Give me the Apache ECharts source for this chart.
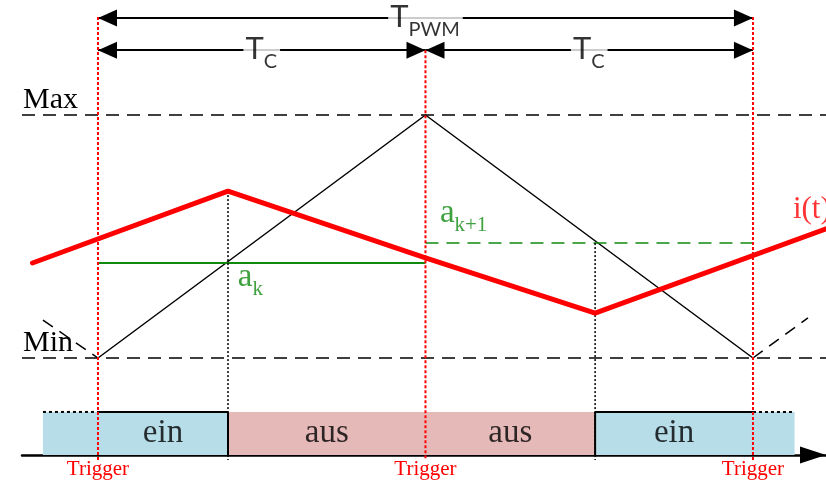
<!DOCTYPE html>
<html>
<head>
<meta charset="utf-8">
<script src="https://cdn.jsdelivr.net/npm/echarts@6/dist/echarts.min.js"></script>
<style>
html, body { margin: 0; padding: 0; background: #fff; }
#main { width: 826px; height: 487px; }
</style>
</head>
<body>
<div id="main"></div>
<script>
var myChart = echarts.init(document.getElementById('main')); //PWM时序图

// x: Zeit in Einheiten von Tc (Trigger bei 0, 1, 2), y: Träger Min = 0 .. Max = 1
var triggerTimes = [0, 1, 2];
var triggerTop = [1.403, 1.267, 1.403];
var carrierT = [0, 1, 2];
var carrierV = [0, 1, 0];
var carrierLeftT = [-0.168, 0];
var carrierLeftV = [0.156, 0];
var carrierRightT = [2, 2.168];
var carrierRightV = [0, 0.165];
var currentT = [-0.2, 0.397, 1, 1.518, 2.23];
var currentV = [0.391, 0.687, 0.412, 0.185, 0.535];
var switchTimes = [0.397, 1.518];
var dutyK = 0.391;   // a_k
var dutyK1 = 0.473;  // a_k+1
var segStart = [-0.168, 0, 0.397, 1, 1.518, 2];
var segEnd = [0, 0.397, 1, 1.518, 2, 2.127];
var segState = ['ein', 'ein', 'aus', 'aus', 'ein', 'ein'];
var levelNames = ['Min', 'Max'];
var periodFrom = [0, 0, 1];
var periodTo = [2, 1, 2];
var periodLevel = [1.399, 1.267, 1.267];
var periodSub = ['PWM', 'C', 'C'];

var barTop = -0.222;
var yMin = -0.3992, yMax = 1.4733;
var lineBottom = -0.42;
var serif = 'Liberation Serif';
var sans = 'Lato';
var green = '#0f8a0f';

function zip(a, b) {
    return a.map(function (v, i) { return [v, b[i]]; });
}

function plain(data, color, width, type, z) {
    return {
        type: 'line', data: data, symbol: 'none', silent: true, clip: false, z: z || 3,
        lineStyle: { color: color, width: width, type: type || 'solid' }
    };
}

var series = [];

// ein/aus Balken
series.push({
    type: 'custom',
    z: 1,
    silent: true,
    data: segStart.map(function (s, i) { return [s, segEnd[i]]; }),
    encode: { x: [0, 1] },
    renderItem: function (params, api) {
        var s = api.value(0), e = api.value(1);
        var state = segState[params.dataIndex];
        var p0 = api.coord([s, barTop]);
        var p1 = api.coord([e, yMin]);
        var children = [{
            type: 'rect',
            shape: { x: p0[0], y: p0[1], width: p1[0] - p0[0], height: p1[1] - p0[1] },
            style: { fill: state === 'ein' ? '#b7dde8' : '#e5b9b8' }
        }];
        if (state === 'ein') {
            var inside = s >= 0 && e <= 2;
            children.push({
                type: 'line',
                shape: { x1: p0[0], y1: p0[1], x2: p1[0], y2: p0[1] },
                style: { stroke: '#000', lineWidth: 2, lineDash: inside ? null : [3, 3] }
            });
        }
        return { type: 'group', children: children };
    }
});

// Max / Min
series.push({
    type: 'line', data: [], silent: true, z: 2,
    markLine: {
        silent: true, symbol: 'none', label: { show: false },
        lineStyle: { color: '#000', width: 1.5, type: [13, 8] },
        data: [{ yAxis: 0 }, { yAxis: 1 }]
    }
});

// Träger
series.push(plain(zip(carrierT, carrierV), '#000', 1.5));
series.push(plain(zip(carrierLeftT, carrierLeftV), '#000', 1.5, [12, 8]));
series.push(plain(zip(carrierRightT, carrierRightV), '#000', 1.5, [12, 8]));

// a_k, a_k+1
series.push(plain([[0, dutyK], [1, dutyK]], green, 2));
series.push(plain([[1, dutyK1], [2, dutyK1]], green, 1.5, [13, 8]));

// Schaltzeitpunkte
series.push(plain([[switchTimes[0], currentV[1]], [switchTimes[0], lineBottom]], '#000', 1.5, [2, 2]));
series.push(plain([[switchTimes[1], dutyK1], [switchTimes[1], lineBottom]], '#000', 1.5, [2, 2]));
switchTimes.forEach(function (t) {
    series.push(plain([[t, barTop], [t, yMin]], '#000', 2));
});

// Trigger
triggerTimes.forEach(function (t, i) {
    series.push(plain([[t, triggerTop[i]], [t, lineBottom]], '#f00', 2, [3, 2], 5));
});

// Strom i(t)
var cur = plain(zip(currentT, currentV), '#f00', 5, 'solid', 4);
cur.clip = true;
cur.lineStyle.cap = 'round';
series.push(cur);

// Pfeile T_PWM, T_C
series.push({
    type: 'line', data: [], silent: true, z: 6,
    markLine: {
        silent: true,
        symbol: ['triangle', 'triangle'],
        symbolSize: [17, 19],
        symbolOffset: [[0, 9.5], [0, 9.5]],
        lineStyle: { color: '#000', width: 2, type: 'solid' },
        label: { show: false },
        data: periodFrom.map(function (f, i) {
            return [{ coord: [f, periodLevel[i]] }, { coord: [periodTo[i], periodLevel[i]] }];
        })
    }
});

series.push({
    type: 'scatter', symbolSize: 0, silent: true, z: 8,
    data: periodFrom.map(function (f, i) {
        return [(f + periodTo[i]) / 2, periodLevel[i], periodSub[i]];
    }),
    label: {
        show: true, position: 'inside', color: '#000',
        backgroundColor: '#fff', padding: [10, 3, 0, 2],
        formatter: function (p) { return '{t|T}{s|' + p.value[2] + '}'; },
        rich: {
            t: { fontFamily: sans, fontSize: 31, lineHeight: 28, verticalAlign: 'bottom', padding: [0, 0, 5, 0] },
            s: { fontFamily: sans, fontSize: 20, lineHeight: 20, verticalAlign: 'bottom', padding: [0, 0, -2, 0] }
        }
    }
});

// Beschriftungen
series.push({
    type: 'scatter', symbolSize: 0, silent: true, z: 7,
    data: [
        { value: [0.427, 0.321], text: '{a|a}{s|k}', color: green },
        { value: [1.044, 0.584], text: '{a|a}{s|k+1}', color: green },
        { value: [2.122, 0.609], text: '{i|i(t)}', color: '#f00' }
    ].map(function (d) {
        return {
            value: d.value,
            label: {
                show: true, position: 'right', distance: 0, color: d.color,
                formatter: d.text,
                rich: {
                    a: { fontFamily: serif, fontSize: 33, verticalAlign: 'bottom', padding: [0, 0, 6, 0] },
                    s: { fontFamily: serif, fontSize: 21, verticalAlign: 'bottom' },
                    i: { fontFamily: serif, fontSize: 31 }
                }
            }
        };
    })
});

series.push({
    type: 'scatter', symbolSize: 0, silent: true, z: 7,
    data: segStart.map(function (s, i) {
        return [(s + segEnd[i]) / 2, (barTop + yMin) / 2, segState[i]];
    }).filter(function (d, i) { return segStart[i] >= 0 && segEnd[i] <= 2; }),
    label: {
        show: true, position: 'inside', color: '#000',
        fontFamily: serif, fontSize: 33,
        formatter: function (p) { return p.value[2]; }
    }
});

option = {
    animation: false,
    backgroundColor: '#fff',
    grid: { left: 22, right: 0, top: 0, bottom: 32 },
    xAxis: {
        type: 'value', min: -0.232, max: 2.223,
        splitLine: { show: false },
        axisTick: { show: false },
        axisLine: {
            show: true, onZero: false,
            symbol: ['none', 'triangle'], symbolSize: [17, 26], symbolOffset: [0, -13],
            lineStyle: { color: '#000', width: 2.5 }
        },
        axisLabel: {
            customValues: triggerTimes, margin: 4,
            color: '#f00', fontFamily: serif, fontSize: 21,
            formatter: function () { return 'Trigger'; }
        }
    },
    yAxis: {
        type: 'value', min: yMin, max: yMax,
        splitLine: { show: false },
        axisTick: { show: false },
        axisLine: { show: false },
        axisLabel: {
            inside: true, margin: 1, customValues: [0, 1],
            verticalAlign: 'bottom', color: '#000',
            fontFamily: serif, fontSize: 30,
            formatter: function (v) { return levelNames[Math.round(v)]; }
        }
    },
    series: series
};
myChart.setOption(option);
</script>
</body>
</html>
